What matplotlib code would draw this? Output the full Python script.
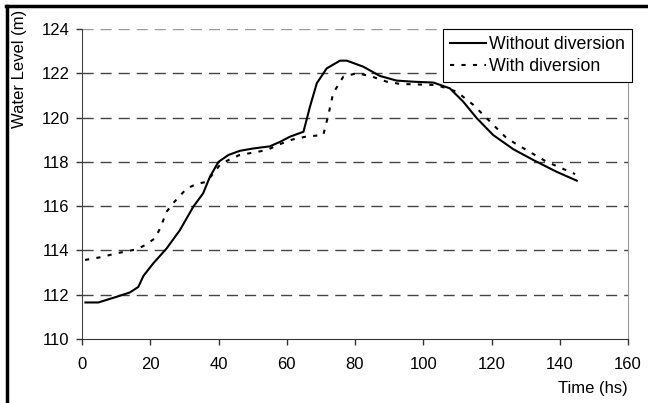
import matplotlib.pyplot as plt
from matplotlib.lines import Line2D

plt.rcParams['font.family'] = ['Liberation Sans', 'DejaVu Sans']

# time (hs) and water level (m)
t_without = [1, 4.8, 10, 14, 16.5, 18, 20.9, 24.8, 28.7, 32.6, 35.5, 37.5, 40,
             42.9, 46.3, 50, 55, 58, 61, 64.9, 66.8, 68.8, 71.7, 75.6, 77.6, 82.4,
             87.3, 92.2, 97, 103, 107.8, 111.7, 115.7, 120.5, 126.4, 132.3, 139.1, 145]
without_div = [111.65, 111.65, 111.9, 112.1, 112.35, 112.85, 113.42, 114.09, 114.92,
               115.97, 116.58, 117.33, 118.0, 118.31, 118.5, 118.6, 118.7, 118.9,
               119.14, 119.36, 120.49, 121.55, 122.22, 122.57, 122.57, 122.3, 121.88,
               121.67, 121.62, 121.58, 121.32, 120.72, 119.97, 119.21, 118.57, 118.08,
               117.55, 117.15]

t_with = [0.9, 5.3, 10.2, 16, 18.5, 21.4, 22.9, 24.8, 26.8, 30.7, 33.6, 36.5, 38.5,
          40.4, 42.9, 46, 54.1, 58, 61.9, 66, 70.7, 72.2, 73.6, 76.6, 80.5, 84.4,
          89.3, 93.2, 103.9, 109.8, 114.7, 118.6, 124.5, 130.3, 136.2, 144.5]
with_div = [113.57, 113.69, 113.87, 114.05, 114.24, 114.55, 115.0, 115.75, 116.15,
            116.8, 117.0, 117.1, 117.48, 117.86, 118.08, 118.3, 118.53, 118.8, 119.02,
            119.15, 119.21, 120.12, 121.1, 121.85, 122.0, 121.88, 121.62, 121.52,
            121.47, 121.17, 120.57, 119.97, 119.06, 118.53, 118.0, 117.45]

fig = plt.figure(figsize=(6.48, 4.03), dpi=100)
ax = fig.add_axes([82 / 648, 64 / 403, 546 / 648, 310 / 403])

for y in [112, 114, 116, 118, 120, 122]:
    ax.axhline(y, color='#444444', lw=1, dashes=(8, 5), zorder=1)
ax.axhline(124, color='#999999', lw=1, dashes=(8, 5), zorder=1)

ax.plot(t_without, without_div, color='black', lw=1.5, label='Without diversion', zorder=3)
ax.plot(t_with, with_div, color='black', lw=1.5, dashes=(2, 3.5), label='With diversion', zorder=3)

ax.set_xlim(0, 160)
ax.set_ylim(110, 124)
ax.set_xticks(range(0, 161, 20))
ax.set_yticks(range(110, 125, 2))
ax.tick_params(labelsize=12, length=4, width=1, colors='#333333', labelcolor='black')
ax.tick_params(axis='x', pad=9)
ax.tick_params(axis='y', pad=5)

ax.spines['top'].set_visible(False)
ax.spines['right'].set_color('#999999')
ax.spines['left'].set_color('#444444')
ax.spines['bottom'].set_color('#333333')

fig.text(20 / 648, 1 - 10 / 403, 'Water Level (m)', rotation=90, ha='center', va='top', fontsize=12)
fig.text(628 / 648, 1 - 388 / 403, 'Time (hs)', ha='right', va='center', fontsize=12)

leg = ax.legend(loc='upper right', bbox_to_anchor=(632 / 648, 1 - 29 / 403),
                bbox_transform=fig.transFigure, fontsize=12.75, fancybox=False,
                framealpha=1, edgecolor='black', borderpad=0.4, handlelength=2.0,
                handletextpad=0.2, labelspacing=0.3, borderaxespad=0)
leg.get_frame().set_linewidth(0.8)

# thick outer frame on left and top
fig.add_artist(Line2D([6.5 / 648, 6.5 / 648], [0, 1 - 5.5 / 403], color='black', lw=2.5,
                      transform=fig.transFigure))
fig.add_artist(Line2D([5.5 / 648, 1], [1 - 5.5 / 403, 1 - 5.5 / 403], color='black', lw=2.5,
                      transform=fig.transFigure))

fig.savefig('out.png', dpi=100)
